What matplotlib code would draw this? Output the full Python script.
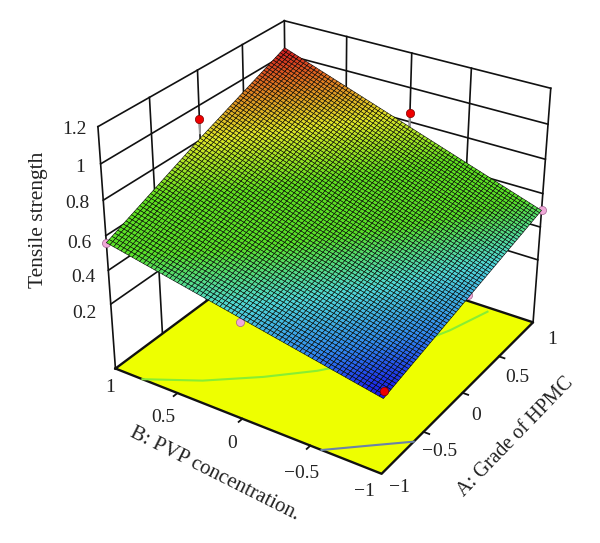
import numpy as np
import matplotlib
matplotlib.use('Agg')
import matplotlib.pyplot as plt
from matplotlib.colors import LinearSegmentedColormap

plt.rcParams['font.family'] = ['Liberation Serif', 'DejaVu Serif']

A_ticks = [-0.5, 0, 0.5]
B_ticks = [-0.5, 0, 0.5]
wall_B_lines = [-0.44, 0, 0.5]
z_ticks = [0.2, 0.4, 0.6, 0.8, 1.0, 1.2]
z_tick_labels = ['0.2', '0.4', '0.6', '0.8', '1', '1.2']
A_labels = ['\u22121', '\u22120.5', '0', '0.5', '1']
B_labels = ['\u22121', '\u22120.5', '0', '0.5', '1']
z_floor = -0.194

# surface heights, rows A = -1, 0, 1, columns B = -1, 0, 1
grid_A = [-1, 0, 1]
grid_B = [-1, 0, 1]
grid_z = [[0.24, 0.40, 0.56],
          [0.37, 0.57, 0.81],
          [0.50, 0.77, 1.04]]

# design points
red_A = [-1, 0, 1]
red_B = [-1, 1, 0]
red_z = [0.28, 0.92, 0.85]
pink_A = [-1, 1, -1, 0]
pink_B = [1, -1, 0, -1]
pink_z = [0.56, 0.50, 0.375, 0.39]

# floor contours
green_A = [-1.0, -0.80, -0.55, -0.30, -0.10, 0.20, 0.60, 0.95]
green_B = [0.78, 0.45, 0.15, -0.10, -0.25, -0.42, -0.58, -0.68]
blue_A = [-1.0, -0.80, -0.62]
blue_B = [-0.58, -0.80, -1.0]

fig = plt.figure(figsize=(6, 5.43), dpi=100)
ax = fig.add_axes([0, 0, 1, 1], projection='3d', computed_zorder=False)
ax.view_init(elev=29.4769, azim=212.7188, roll=-0.222)
ax.set_proj_type('persp', focal_length=0.6078)
ax.set_box_aspect((1, 1.0195, 0.8788))
ax.set_xlim(-1, 1)
ax.set_ylim(-1, 1)
ax.set_zlim(z_floor, 1.2)
ax.set_axis_off()

# place the axes so the box lands on the reference pixels
s, tx, ty = 2731.795, 329.435, -230.750
v0, v1 = ax.viewLim.intervalx
u0, u1 = ax.viewLim.intervaly
ax.set_position([(s*v0+tx)/600, (543+s*u0+ty)/543, s*(v1-v0)/600, s*(u1-u0)/543])

black = '#111111'
# wall grid
for z in z_ticks:
    ax.plot([-1, 1], [1, 1], [z, z], color=black, lw=1.2, zorder=1)
    ax.plot([1, 1], [1, -1], [z, z], color=black, lw=1.2, zorder=1)
for a in [-1] + A_ticks + [1]:
    ax.plot([a, a], [1, 1], [z_floor, 1.2], color=black, lw=1.2, zorder=1)
for b in wall_B_lines + [-1]:
    ax.plot([1, 1], [b, b], [z_floor, 1.2], color=black, lw=1.2, zorder=1)

# yellow floor
XX, YY = np.meshgrid([-1, 1], [-1, 1], indexing='ij')
ax.plot_surface(XX, YY, np.full_like(XX, z_floor, dtype=float), color='#eeff00', shade=False,
                linewidth=0, antialiased=False, zorder=2)
ax.plot([-1, -1, 1, 1, -1], [1, -1, -1, 1, 1], [z_floor]*5, color=black, lw=1.7, zorder=3)
ax.plot(green_A, green_B, [z_floor]*len(green_A), color='#88ee33', lw=1.5, zorder=3)
ax.plot(blue_A, blue_B, [z_floor]*len(blue_A), color='#6a82a8', lw=1.5, zorder=3)

# tick stubs on the front edges
for b in B_ticks:
    ax.plot([-1, -1.04], [b, b], [z_floor, z_floor], color=black, lw=1.3, zorder=3)
for a in A_ticks:
    ax.plot([a, a], [-1, -1.04], [z_floor, z_floor], color=black, lw=1.3, zorder=3)

# stems and the points behind the surface
ax.scatter(pink_A, pink_B, pink_z, s=34, c='#f0a8d8', edgecolors='#a06090', linewidths=0.5,
           depthshade=False, zorder=4)
for a, b, z in zip(red_A[1:], red_B[1:], red_z[1:]):
    ax.plot([a, a], [b, b], [z - 0.08, z], color='#999999', lw=1.5, zorder=4)
ax.scatter(red_A[1:], red_B[1:], red_z[1:], s=36, c='#ee0000', edgecolors='#800000', linewidths=0.5,
           depthshade=False, zorder=4)

# dense mesh, refined from the heights read above only to carry the shading and wires
n_mesh = 70
mesh_a = np.linspace(-1, 1, n_mesh + 1)
mesh_b = np.linspace(-1, 1, n_mesh + 1)
row = np.array([np.interp(mesh_a, grid_A, c) for c in np.array(grid_z).T])
Z = np.array([np.interp(mesh_b, grid_B, row[:, i]) for i in range(n_mesh + 1)])
MA, MB = np.meshgrid(mesh_a, mesh_b, indexing='ij')
cmap = LinearSegmentedColormap.from_list('dx', [(0, '#1818e8'), (0.10, '#3088f0'), (0.22, '#50d8d8'),
                                                (0.36, '#58e028'), (0.52, '#60e020'), (0.70, '#e0e828'),
                                                (0.87, '#e07020'), (1, '#d01020')])
colors = cmap((Z - 0.24) / (1.04 - 0.24))
ax.plot_surface(MA, MB, Z, facecolors=colors, rstride=1, cstride=1, shade=False, edgecolor='#000000',
                linewidth=0.4, antialiased=True, zorder=5)

ax.scatter(red_A[:1], red_B[:1], red_z[:1], s=36, c='#ee0000', edgecolors='#800000', linewidths=0.5,
           depthshade=False, zorder=6)


def put(x, y, txt, **kw):
    kw.setdefault('fontsize', 14)
    kw.setdefault('color', '#222222')
    fig.text(x/600, 1 - y/543, txt, ha=kw.pop('ha', 'center'), va='center', **kw)


z_label_x = [97, 95, 92, 90, 85, 87]
z_label_y = [313, 278, 243, 204, 168, 129]
for x, y, t in zip(z_label_x, z_label_y, z_tick_labels):
    put(x, y, t, ha='right')
for x, y, t in zip([364, 302, 232, 163, 110], [492, 473, 444, 417, 387], B_labels):
    put(x, y, t)
for x, y, t in zip([399, 440, 476, 517, 552], [488, 452, 416, 377, 340], A_labels):
    put(x, y, t)
put(38, 220, 'Tensile strength', rotation=90, fontsize=15.5)
put(215, 474, 'B: PVP concentration.', rotation=-26.7, fontsize=15)
put(516, 437, 'A: Grade of HPMC', rotation=46, fontsize=14.5)

fig.savefig('out.png', dpi=100)
